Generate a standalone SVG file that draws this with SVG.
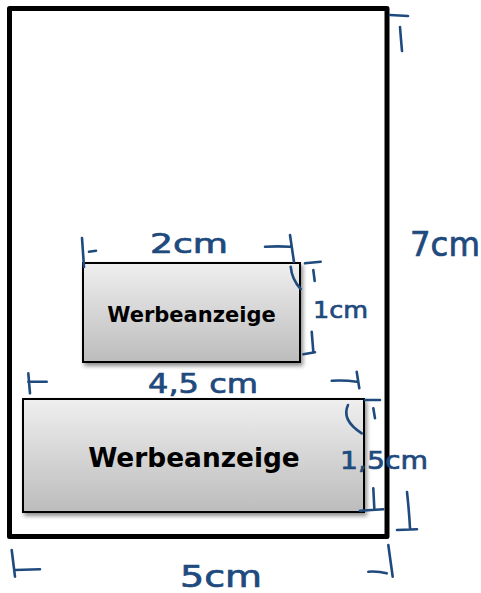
<svg xmlns="http://www.w3.org/2000/svg" width="481" height="593" viewBox="0 0 481 593">
  <defs>
    <linearGradient id="boxGrad" x1="0" y1="0" x2="0" y2="1">
      <stop offset="0" stop-color="#efefef"/>
      <stop offset="1" stop-color="#bcbcbc"/>
    </linearGradient>
    <filter id="shadow" x="-10%" y="-10%" width="130%" height="140%">
      <feDropShadow dx="2" dy="3" stdDeviation="2" flood-color="#000" flood-opacity="0.45"/>
    </filter>
  </defs>
  <style>
    .frame { fill: #fff; stroke: #000; stroke-width: 5; stroke-linejoin: round; }
    .box { fill: url(#boxGrad); stroke: #000; stroke-width: 2; filter: url(#shadow); }
    .label { font-family: "DejaVu Sans", Verdana, sans-serif; font-weight: bold; fill: #000; text-anchor: middle; }
    .ink { fill: none; stroke: #1f4a7e; stroke-width: 2.6; stroke-linecap: round; stroke-linejoin: round; }
    .hand { font-family: "DejaVu Sans", sans-serif; fill: #1f4a7e; stroke: #1f4a7e; stroke-width: 0.7; }
  </style>
  <rect width="481" height="593" fill="#fff"/>

  <g id="frame">
    <rect class="frame" x="9.5" y="8.5" width="377.5" height="528"/>
  </g>

  <g id="ad-small">
    <rect class="box" x="83" y="263" width="217" height="99"/>
    <text class="label" x="191.5" y="322" font-size="21">Werbeanzeige</text>
  </g>

  <g id="ad-large">
    <rect class="box" x="23" y="399" width="341" height="113"/>
    <text class="label" x="194" y="467" font-size="26.4">Werbeanzeige</text>
  </g>

  <g id="dimensions">
    <!-- 7cm height of frame -->
    <path class="ink" d="M390 15 L408 16 M400 27 Q401 40 402 51"/>
    <path class="ink" d="M407 492 Q409 510 410 528 M397 530 L417 529.3"/>
    <text class="hand" x="410" y="256" font-size="33" textLength="70" lengthAdjust="spacingAndGlyphs">7cm</text>

    <!-- 2cm width of small ad -->
    <path class="ink" d="M82 238 L84 267 M89 251.7 L96 250.7"/>
    <path class="ink" d="M265 246.7 Q278 246 290 246.7 M290 235 L294 262"/>
    <text class="hand" x="150" y="253" font-size="26" textLength="78" lengthAdjust="spacingAndGlyphs">2cm</text>

    <!-- 1cm height of small ad -->
    <path class="ink" d="M290.7 266.7 Q292 280 300.7 289"/>
    <path class="ink" d="M305 263.3 L320.7 261.7 M313.3 270 L314.7 281"/>
    <path class="ink" d="M311.7 331.7 L313.3 351.7 M303.3 354.3 L315 352.3"/>
    <text class="hand" x="313" y="318" font-size="23" textLength="55" lengthAdjust="spacingAndGlyphs">1cm</text>

    <!-- 4,5 cm width of large ad -->
    <path class="ink" d="M28.3 373.3 L30 393.3 M28.3 381.7 L46.7 381.7"/>
    <path class="ink" d="M331.7 380.7 Q345 380 356.7 381.7 M356.7 371.7 L359.3 388.3"/>
    <text class="hand" x="148" y="393" font-size="26" textLength="110" lengthAdjust="spacingAndGlyphs">4,5 cm</text>

    <!-- 1,5cm height of large ad -->
    <path class="ink" d="M348 405 Q341 420 361.7 433.3"/>
    <path class="ink" d="M365 400 L380 400 M373.3 408.3 L375 418.3"/>
    <path class="ink" d="M373.3 488.3 L374.3 508.3 M360 510.7 L383.3 509.3"/>
    <text class="hand" x="340" y="469" font-size="25" textLength="88" lengthAdjust="spacingAndGlyphs">1,5cm</text>

    <!-- 5cm width of frame -->
    <path class="ink" d="M11.7 550 L15 576.7 M15 570 L40 569.3"/>
    <path class="ink" d="M368.3 571.7 Q378 571 386.7 573.3 M388.3 545 L392.7 576.7"/>
    <text class="hand" x="180" y="587" font-size="30" textLength="82" lengthAdjust="spacingAndGlyphs">5cm</text>
  </g>
</svg>
